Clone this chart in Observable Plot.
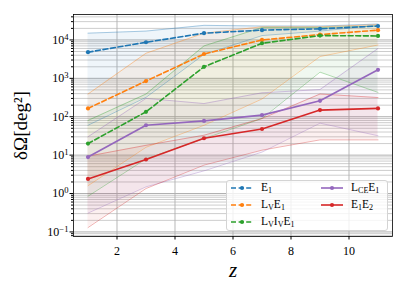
<!DOCTYPE html>
<html><head><meta charset="utf-8">
<script src="https://cdn.jsdelivr.net/npm/d3@7"></script>
<script src="https://cdn.jsdelivr.net/npm/@observablehq/plot@0.6"></script>
<style>
body{margin:0;background:#fff;}
#wrap{position:relative;width:407px;height:291px;font-family:"Liberation Serif","DejaVu Serif",serif;}
#wrap svg.plot{position:absolute;left:0;top:0;}
#legend{position:absolute;left:226px;top:180px;width:162px;height:51px;border:1px solid #d4d4d4;border-radius:3px;background:rgba(255,255,255,0.8);box-sizing:border-box;}
.item{position:absolute;display:flex;align-items:center;font-size:11.5px;line-height:1;color:#000;white-space:nowrap;}
.item svg{margin-right:8px;}
.item sub{font-size:0.7em;vertical-align:-0.3em;line-height:0;}
</style>
</head><body>
<div id="wrap"><div id="legend"></div></div>
<script>
// redshift
const z = [1, 3, 5, 7, 9, 11];
// E1
const e1Mid = [4800, 8700, 15000, 18000, 19500, 23000];
const e1Hi  = [15000, 17000, 24000, 23000, 23000, 26000];
const e1Lo  = [60, 320, 4200, 13000, 17000, 24000];
// LV E1
const lvMid = [165, 850, 4300, 10000, 13800, 18000];
const lvHi  = [390, 4500, 15000, 22000, 22000, 25000];
const lvLo  = [1.6, 16, 60, 290, 3700, 7400];
// LV IV E1
const lvivMid = [20, 134, 2000, 8200, 13000, 12700];
const lvivHi  = [80, 390, 7000, 21000, 21000, 23000];
const lvivLo  = [0.85, 8, 27, 90, 1450, 430];
// LCE E1
const lceMid = [8.9, 60, 78, 110, 260, 1670];
const lceHi  = [30, 300, 220, 420, 510, 6000];
const lceLo  = [0.31, 1.5, 3.9, 12, 68, 32];
// E1 E2
const e12Mid = [2.4, 7.7, 27.5, 48, 149, 165];
const e12Hi  = [9.4, 18, 33, 90, 390, 316];
const e12Lo  = [0.13, 1.35, 5.5, 13.5, 25, 25];

const labelsHTML = ["E<sub>1</sub>", "L<sub>V</sub>E<sub>1</sub>", "L<sub>V</sub>I<sub>V</sub>E<sub>1</sub>", "L<sub>CE</sub>E<sub>1</sub>", "E<sub>1</sub>E<sub>2</sub>"];
const colors = ["#1f77b4", "#ff7f0e", "#2ca02c", "#9467bd", "#d62728"];
const dashed = [true, true, true, false, false];
const mids = [e1Mid, lvMid, lvivMid, lceMid, e12Mid];
const his = [e1Hi, lvHi, lvivHi, lceHi, e12Hi];
const los = [e1Lo, lvLo, lvivLo, lceLo, e12Lo];

const xTicks = [2, 4, 6, 8, 10];
const decadeExp = [-1, 0, 1, 2, 3, 4];
const decades = decadeExp.map(k => Math.pow(10, k));
const minors = [];
for (let k = -2; k <= 4; k++) for (let m = 2; m <= 9; m++) { const v = m * Math.pow(10, k); if (v > 0.076 && v < 46000) minors.push(v); }

const serif = "'Liberation Serif','DejaVu Serif',serif";
const series = mids.map((m, i) => ({
  color: colors[i], dash: dashed[i],
  rows: z.map((zz, j) => ({z: zz, mid: m[j], hi: his[i][j], lo: los[i][j]}))
}));

const marks = [
  Plot.gridY(minors, {stroke: "#b0b0b0", strokeOpacity: 0.8, strokeWidth: 0.8}),
  Plot.gridY(decades, {stroke: "#b0b0b0", strokeOpacity: 1, strokeWidth: 1}),
  Plot.gridX(xTicks, {stroke: "#b0b0b0", strokeOpacity: 0.9, strokeWidth: 1}),
];
for (const s of series) marks.push(Plot.areaY(s.rows, {x: "z", y1: "lo", y2: "hi", fill: s.color, fillOpacity: 0.07}));
for (const s of series) {
  marks.push(Plot.lineY(s.rows, {x: "z", y: "hi", stroke: s.color, strokeOpacity: 0.45, strokeWidth: 0.8}));
  marks.push(Plot.lineY(s.rows, {x: "z", y: "lo", stroke: s.color, strokeOpacity: 0.45, strokeWidth: 0.8}));
}
for (const s of series) {
  marks.push(Plot.lineY(s.rows, {x: "z", y: "mid", stroke: s.color, strokeWidth: 1.6, strokeDasharray: s.dash ? "5,2.6" : null}));
  marks.push(Plot.dot(s.rows, {x: "z", y: "mid", r: 2.1, fill: s.color}));
}
marks.push(
  Plot.frame({stroke: "#000", strokeWidth: 0.8}),
  Plot.axisY(decades, {tickSize: 3.5, tickPadding: 1.5, fontSize: 12, label: null, tickFormat: d => "10^" + Math.round(Math.log10(d))}),
  Plot.axisY(minors, {tickSize: 2, tickFormat: () => "", label: null}),
  Plot.axisX(xTicks, {tickSize: 3.5, tickPadding: 6, fontSize: 12, label: null}),
  Plot.axisY([], {label: "δΩ[deg²]", labelAnchor: "center", labelArrow: "none", labelOffset: 60, fontSize: 19, tickSize: 0}),
  Plot.axisX([], {label: "z", labelAnchor: "center", labelArrow: "none", labelOffset: 40, fontSize: 21, fontStyle: "italic", tickSize: 0})
);

const chart = Plot.plot({
  width: 407, height: 291,
  marginLeft: 73, marginRight: 15, marginTop: 14, marginBottom: 55,
  style: {fontFamily: serif, background: "transparent", color: "#000"},
  x: {domain: [0.5, 11.5]},
  y: {type: "log", domain: [0.076, 46000]},
  marks
});
chart.classList.add("plot");
document.getElementById("wrap").prepend(chart);

// superscript exponents on y tick labels
chart.querySelectorAll('g[aria-label="y-axis tick label"] text').forEach(t => {
  const s = t.textContent;
  if (s.includes("^")) {
    const [b, e] = s.split("^");
    t.textContent = "";
    const t1 = document.createElementNS("http://www.w3.org/2000/svg", "tspan");
    t1.textContent = b;
    const t2 = document.createElementNS("http://www.w3.org/2000/svg", "tspan");
    t2.textContent = e.replace("-", "\u2212");
    t2.setAttribute("dy", "-0.45em");
    t2.setAttribute("font-size", "0.72em");
    t.appendChild(t1); t.appendChild(t2);
  }
});
// italic serif z
chart.querySelectorAll('g[aria-label="x-axis label"] text, g[aria-label="x-axis label"]').forEach(el => {
  el.setAttribute("font-style", "italic");
  el.setAttribute("font-family", "'Liberation Serif', serif");
});

// legend
const legend = document.getElementById("legend");
const colLeft = [4, 94];
const rowTop = [7, 24, 41];
labelsHTML.forEach((lab, i) => {
  const col = i < 3 ? 0 : 1, row = i < 3 ? i : i - 3;
  const d = document.createElement("div");
  d.className = "item";
  d.style.left = colLeft[col] + "px";
  d.style.top = (rowTop[row] - 6) + "px";
  d.style.height = "12px";
  const dash = dashed[i] ? 'stroke-dasharray="5,2.6"' : "";
  d.innerHTML = `<svg width="22" height="10"><line x1="0" y1="5" x2="22" y2="5" stroke="${colors[i]}" stroke-width="1.6" ${dash}/><circle cx="11" cy="5" r="2.1" fill="${colors[i]}"/></svg><span>${lab}</span>`;
  legend.appendChild(d);
});
</script>
</body></html>
